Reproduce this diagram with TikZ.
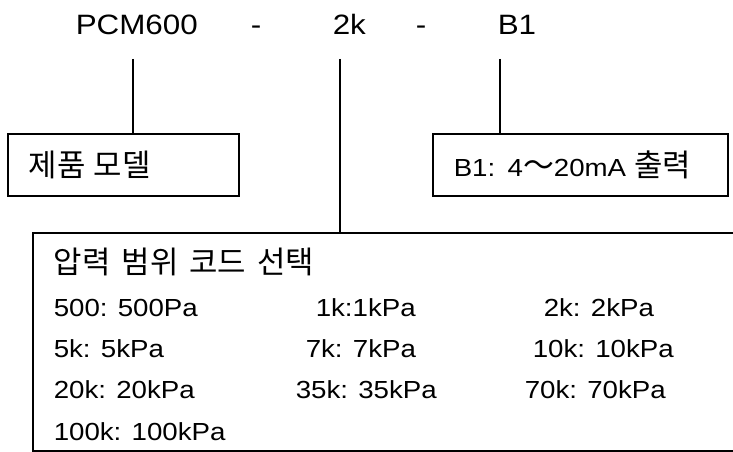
\documentclass[tikz,border=0pt]{standalone}
\usepackage{fontspec}
\setmainfont{Liberation Sans}[FakeStretch=1.12]
\newfontfamily\kr{Noto Sans CJK KR}[Scale=1.25,WordSpace=1.6]

\begin{document}
\begin{tikzpicture}[x=1pt,y=-1pt,line width=1.5pt,
    box/.style={draw,anchor=north west,inner xsep=21pt,inner ysep=0pt,align=left},
    code/.style={anchor=base west,inner sep=0pt,font=\fontsize{24.7}{30}\selectfont},
    head/.style={anchor=base west,inner sep=0pt,font=\fontsize{28}{34}\selectfont}]
    \useasboundingbox (0,0) rectangle (733,452);

    % model number
    \node[head] (pcm) at (75,35) {PCM600};
    \node[head] (d1) at (250,35) {-};
    \node[head] (rng) at (332,35) {2k};
    \node[head] (d2) at (415,35) {-};
    \node[head] (out) at (497,35) {B1};

    \coordinate (t1) at (133,59);
    \coordinate (t2) at (340,59);
    \coordinate (t3) at (500,59);

    % boxes
    \node[box,text width=189pt,minimum height=62pt,font=\fontsize{24.7}{30}\selectfont]
        (model) at (7,133) {\kr 제품 모델};
    \node[box,text width=253pt,minimum height=62pt,font=\fontsize{24.7}{30}\selectfont]
        (signal) at (432,133) {B1: 4{\kr ～}20mA {\kr 출력}};
    \node[box,minimum width=760pt,minimum height=218pt] (range) at (32,232) {};

    \path[draw] (t1) -- (t1 |- model.north);
    \path[draw] (t2) -- (t2 |- range.north);
    \path[draw] (t3) -- (t3 |- signal.north);

    % range codes
    \node[code] (title) at (53,273) {\kr 압력 범위 코드 선택};
    \foreach \n/\x/\y/\t in {a/53/316/500: 500Pa, b/315/316/1k:1kPa, c/543/316/2k: 2kPa,
                             d/53/357/5k: 5kPa, e/305/357/7k: 7kPa, f/532/357/10k: 10kPa,
                             g/53/398/20k: 20kPa, h/295/398/35k: 35kPa, i/524/398/70k: 70kPa,
                             j/53/440/100k: 100kPa}
        \node[code] (c\n) at (\x,\y) {\t};

\end{tikzpicture}
\end{document}
